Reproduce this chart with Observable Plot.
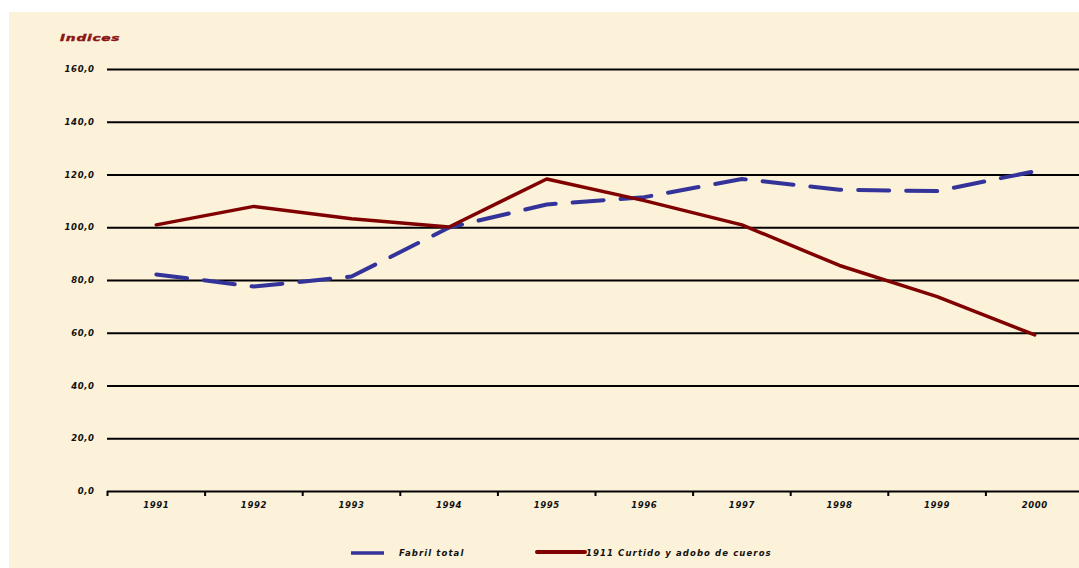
<!DOCTYPE html>
<html>
<head>
<meta charset="utf-8">
<script src="https://cdn.jsdelivr.net/npm/d3@7"></script>
<script src="https://cdn.jsdelivr.net/npm/@observablehq/plot@0.6"></script>
<style>
  html, body { margin: 0; padding: 0; background: #ffffff; }
  body { width: 1079px; height: 568px; position: relative; overflow: hidden;
         font-family: "DejaVu Sans", "Liberation Sans", Arial, sans-serif; font-weight: bold; font-style: italic; }
  #panel { position: absolute; left: 9px; top: 12px; width: 1070px; height: 556px; background: #fcf1d9; overflow: hidden; }
  #title { position: absolute; left: 51px; top: 19px; font-size: 9.5px; letter-spacing: 0.5px; color: #8b1414; line-height: 14px;
           transform: scaleX(1.45); transform-origin: 0 50%; font-weight: 900; -webkit-text-stroke: 0.4px #8b1414; }
  #chart { position: absolute; left: 0; top: 43px; }
  .leg { position: absolute; font-size: 8.5px; letter-spacing: 1.1px; color: #111; line-height: 12px; }
  .legline { position: absolute; }
</style>
</head>
<body>
<div id="panel">
  <div id="title">Indices</div>
  <div id="chart"></div>
  <svg class="legline" style="left:340px;top:535px" width="40" height="12"><line x1="2" x2="35" y1="6" y2="6" stroke="#333399" stroke-width="3.5"/></svg>
  <div class="leg" style="left:390px;top:535px">Fabril total</div>
  <svg class="legline" style="left:525px;top:534px" width="56" height="12"><line x1="3" x2="51" y1="6" y2="6" stroke="#800000" stroke-width="4" stroke-linecap="round"/></svg>
  <div class="leg" style="left:577px;top:535px">1911 Curtido y adobo de cueros</div>
</div>
<script>
const years = [1991, 1992, 1993, 1994, 1995, 1996, 1997, 1998, 1999, 2000];
const fabrilTotal = [82.3, 77.7, 81.5, 100.1, 108.8, 111.6, 118.5, 114.4, 113.9, 121.4];
const curtido = [101.1, 108.1, 103.4, 100.3, 118.5, 110.3, 101.1, 85.7, 73.9, 59.4];
const yTicks = [0, 20, 40, 60, 80, 100, 120, 140, 160];
const seriesNames = ["Fabril total", "1911 Curtido y adobo de cueros"];

const fabrilData = years.map((y, i) => ({year: y, value: fabrilTotal[i]}));
const curtidoData = years.map((y, i) => ({year: y, value: curtido[i]}));
const boundaries = years.map(y => y - 0.5).concat([years[years.length - 1] + 0.5]);

const fmt = d => d.toFixed(1).replace(".", ",");

const chart = Plot.plot({
  width: 1070,
  height: 470,
  marginLeft: 98,
  marginRight: 0,
  marginTop: 14,
  marginBottom: 34,
  style: {
    background: "transparent",
    fontFamily: "'DejaVu Sans', 'Liberation Sans', Arial, sans-serif",
    fontSize: "8.5px",
    fontWeight: "bold",
    fontStyle: "italic",
    letterSpacing: "0.6px",
    color: "#111",
    overflow: "visible"
  },
  x: {type: "linear", domain: [years[0] - 0.5, years[years.length - 1] + 0.5], range: [98, 1074]},
  y: {domain: [0, 160]},
  marks: [
    Plot.gridY(yTicks, {stroke: "#000", strokeOpacity: 1, strokeWidth: 2}),
    Plot.axisY({ticks: yTicks, tickSize: 0, tickPadding: 13, tickFormat: fmt, label: null}),
    Plot.axisX({ticks: boundaries, tickSize: 5, tickFormat: () => "", strokeWidth: 2, stroke: "#000", strokeOpacity: 1, label: null}),
    Plot.axisX({ticks: years, tickSize: 0, tickPadding: 10, tickFormat: d => String(d), label: null}),
    Plot.line(fabrilData, {x: "year", y: "value", stroke: "#333399", strokeWidth: 4, strokeDasharray: "31,17", strokeLinejoin: "miter"}),
    Plot.line(curtidoData, {x: "year", y: "value", stroke: "#800000", strokeWidth: 3.5})
  ]
});
document.getElementById("chart").appendChild(chart);
</script>
</body>
</html>
